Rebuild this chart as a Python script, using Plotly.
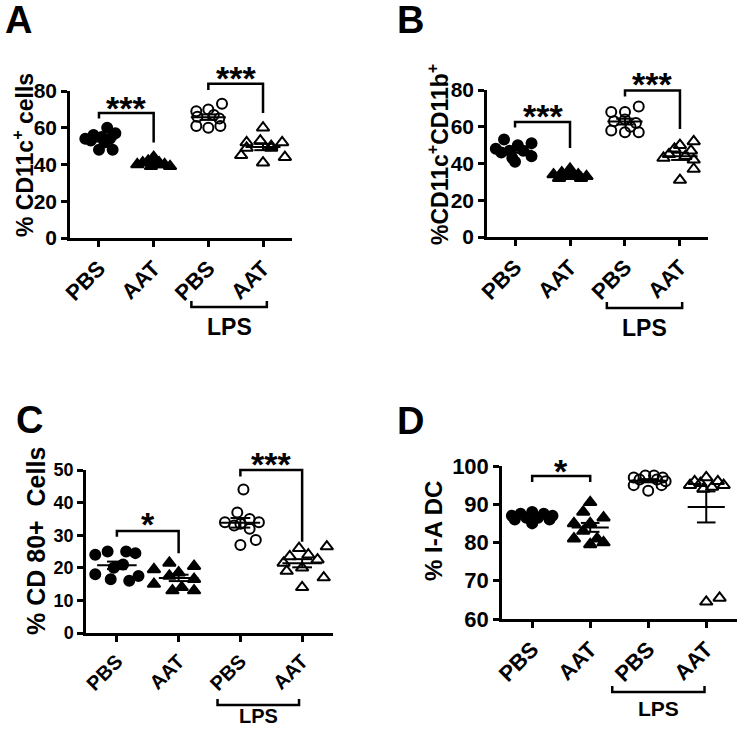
import numpy as np
import plotly.graph_objects as go

W, H = 739, 730
FONT = "Arial, Liberation Sans, sans-serif"

# ---------------- data ----------------
tick_labels = ["PBS", "AAT", "PBS", "AAT"]
categories = [1, 2, 3, 4]

# Panel A: % CD11c+ cells
a_pbs = [60, 57, 56, 55, 54, 54, 53, 52, 48, 48]
a_aat = [44, 42, 41, 41, 40, 40, 39, 39, 40]
a_lps_pbs = [73, 70, 69, 67, 66, 65, 61, 60, 61]
a_lps_aat = [60, 53, 52, 52, 50, 49, 49, 45, 44, 41]
a_off = [[0.15, 0.3, -0.1, 0.05, -0.25, 0.2, -0.15, 0.1, 0.0, 0.25],
         [0.0, -0.1, 0.1, -0.2, 0.2, -0.3, 0.3, -0.05, 0.05],
         [0.25, 0.0, -0.22, 0.1, -0.2, 0.2, -0.22, 0.0, 0.22],
         [0.0, -0.05, -0.3, 0.35, 0.15, -0.3, 0.15, -0.4, 0.4, 0.0]]

# Panel B: % CD11c+CD11b+
b_pbs = [53, 51, 50, 48, 47, 47, 46, 44, 43, 41]
b_aat = [37, 35, 34, 34, 33, 33, 32, 32, 33]
b_lps_pbs = [71, 68, 68, 64, 63, 62, 60, 58, 57, 57]
b_lps_aat = [52, 50, 48, 47, 45, 44, 43, 42, 37, 31]
b_off = [[-0.2, 0.3, 0.05, -0.35, -0.1, 0.15, -0.25, 0.3, -0.05, 0.0],
         [0.0, -0.15, 0.15, -0.3, 0.3, -0.05, -0.2, 0.2, 0.05],
         [0.25, 0.0, -0.25, 0.0, -0.2, 0.2, 0.1, -0.25, 0.25, 0.0],
         [0.25, 0.0, -0.1, 0.2, -0.2, 0.1, -0.3, 0.25, 0.25, 0.0]]

# Panel C: % CD 80+ Cells
c_pbs = [25, 25, 24.5, 24, 21, 20, 18, 17.5, 16.5, 16]
c_aat = [21.5, 20.5, 19.5, 18.5, 17.5, 16.5, 15, 14, 13, 13]
c_lps_pbs = [44, 37, 35, 34, 34, 33.5, 33, 32, 28.5, 27]
c_lps_aat = [26.5, 26, 24, 23.5, 22.5, 21.5, 20, 19, 17, 14]
c_off = [[-0.15, 0.15, 0.3, -0.35, 0.1, -0.05, -0.35, 0.35, -0.1, 0.2],
         [-0.15, 0.25, -0.4, 0.0, -0.15, 0.25, -0.4, 0.05, -0.1, 0.25],
         [0.05, -0.05, 0.15, -0.25, 0.3, 0.0, -0.1, 0.15, 0.25, 0.0],
         [0.4, -0.05, 0.1, -0.2, 0.25, -0.3, 0.0, -0.25, 0.35, 0.0]]

# Panel D: % I-A DC
d_pbs = [88, 87.5, 87.5, 87, 87, 86.5, 86.5, 86, 86, 85]
d_aat = [90.5, 88, 86.5, 85, 85, 83, 81, 81, 80, 79.5]
d_lps_pbs = [97.5, 97.5, 97, 97, 96.5, 96.5, 96, 95, 95, 93.5]
d_lps_aat = [97, 96, 96, 95.5, 95, 95, 94.5, 94, 64.5, 65.5]
d_off = [[0.0, -0.2, 0.2, -0.35, 0.35, -0.1, 0.1, -0.3, 0.3, 0.0],
         [0.0, -0.12, 0.23, -0.28, 0.0, -0.12, -0.28, 0.12, 0.23, 0.0],
         [-0.05, 0.1, -0.25, 0.25, -0.15, 0.15, 0.3, 0.23, -0.25, 0.0],
         [0.0, -0.2, 0.2, -0.1, 0.3, -0.28, 0.1, -0.05, 0.0, 0.23]]

# significance brackets: (x_left, x_right, y_top, y_left_end, y_right_end, label_y, label)
a_sig = [(1, 2, 68, 65, 52, 71, "***"), (3, 4, 84, 80.5, 68, 87, "***")]
b_sig = [(1, 2, 62.6, 59.6, 48.4, 66, "***"), (3, 4, 79.7, 76.5, 58.8, 83, "***")]
c_sig = [(1, 2, 31.3, 29.5, 24.5, 33.5, "*"), (3, 4, 50, 48, 28, 51.8, "***")]
d_sig = [(1, 2, 97.4, 95.8, 95.8, 98.8, "*")]

# ---------------- layout geometry (pixels) ----------------
panels = [
    dict(name="A", groups=[a_pbs, a_aat, a_lps_pbs, a_lps_aat], offs=a_off, sig=a_sig,
         px=(70, 292), py=(238, 91), yr=(0, 80), xr=(0.47, 4.53), dtick=20,
         title="% CD11c<sup>+</sup> cells", tpos=(23, 155), tsize=23,
         ytsize=21, xtsize=22,
         letter=(18, 20), lps=(2.69, 4.07, 307, 327), lpssize=23),
    dict(name="B", groups=[b_pbs, b_aat, b_lps_pbs, b_lps_aat], offs=b_off, sig=b_sig,
         px=(487, 708), py=(237, 90), yr=(0, 80), xr=(0.49, 4.51), dtick=20,
         title="%CD11c<sup>+</sup>CD11b<sup>+</sup>", tpos=(438, 155), tsize=23,
         ytsize=21, xtsize=22,
         letter=(410, 20), lps=(2.67, 4.04, 308, 328), lpssize=23),
    dict(name="C", groups=[c_pbs, c_aat, c_lps_pbs, c_lps_aat], offs=c_off, sig=c_sig,
         px=(86, 333), py=(633, 470), yr=(0, 50), xr=(0.5, 4.5), dtick=10,
         title="% CD 80+  Cells", tpos=(36, 541), tsize=25,
         ytsize=18, xtsize=20,
         letter=(29, 420), lps=(2.63, 3.95, 705, 716), lpssize=20),
    dict(name="D", groups=[d_pbs, d_aat, d_lps_pbs, d_lps_aat], offs=d_off, sig=d_sig,
         px=(502, 737), py=(619, 466), yr=(60, 100), xr=(0.48, 4.53), dtick=10,
         title="% I-A DC", tpos=(433, 531), tsize=24,
         ytsize=22, xtsize=22,
         letter=(410, 421), lps=(2.38, 3.97, 692, 708), lpssize=21),
]

symbols = ["circle", "triangle-up", "circle-open", "triangle-up-open"]
msizes = [10, 11, 10, 11]

fig = go.Figure()
shapes, annotations = [], []
layout_axes = {}


def px2x(p):
    return p / W


def py2y(p):
    return 1 - p / H


for i, P in enumerate(panels):
    n = i + 1
    xa = "x" if n == 1 else f"x{n}"
    ya = "y" if n == 1 else f"y{n}"
    xkey = "xaxis" if n == 1 else f"xaxis{n}"
    ykey = "yaxis" if n == 1 else f"yaxis{n}"
    dom_x = [px2x(P["px"][0]), px2x(P["px"][1])]
    dom_y = [py2y(P["py"][0]), py2y(P["py"][1])]
    lo, hi = P["yr"]

    def v2paper(v, dom_y=dom_y, lo=lo, hi=hi):
        return dom_y[0] + (v - lo) / (hi - lo) * (dom_y[1] - dom_y[0])

    layout_axes[xkey] = dict(
        domain=dom_x, range=list(P["xr"]), anchor=ya, tickmode="array",
        tickvals=categories, ticktext=tick_labels, tickangle=-45, automargin=False,
        tickfont=dict(family=FONT, size=P["xtsize"], color="black", weight="bold"),
        showline=True, linecolor="black", linewidth=2.5, ticks="outside",
        ticklen=6, tickwidth=2.5, tickcolor="black", showgrid=False, zeroline=False,
    )
    layout_axes[ykey] = dict(
        domain=dom_y, range=[lo, hi], anchor=xa, tickmode="linear", tick0=lo,
        dtick=P["dtick"], automargin=False,
        tickfont=dict(family=FONT, size=P["ytsize"], color="black", weight="bold"),
        showline=True, linecolor="black", linewidth=2.5, ticks="outside",
        ticklen=6, tickwidth=2.5, tickcolor="black", showgrid=False, zeroline=False,
    )

    for g, (vals, offs) in enumerate(zip(P["groups"], P["offs"])):
        cat = categories[g]
        fig.add_trace(go.Scatter(
            x=[cat + o for o in offs], y=vals, mode="markers", xaxis=xa, yaxis=ya,
            marker=dict(symbol=symbols[g], size=msizes[g], color="black",
                        line=dict(color="black", width=2)),
            showlegend=False, cliponaxis=False,
        ))
        arr = np.array(vals, dtype=float)
        m = arr.mean()
        sem = arr.std(ddof=1) / np.sqrt(len(arr))
        hw, cw = 0.32, 0.16
        fig.add_trace(go.Scatter(
            x=[cat - hw, cat + hw], y=[m, m], mode="lines", xaxis=xa, yaxis=ya,
            line=dict(color="black", width=2), showlegend=False))
        fig.add_trace(go.Scatter(
            x=[cat - cw, cat + cw, None, cat, cat, None, cat - cw, cat + cw],
            y=[m + sem, m + sem, None, m + sem, m - sem, None, m - sem, m - sem],
            mode="lines", xaxis=xa, yaxis=ya,
            line=dict(color="black", width=2), showlegend=False))

    for (x1, x2, yt, yl, yr_, ly, lab) in P["sig"]:
        path = (f"M {x1} {v2paper(yl)} L {x1} {v2paper(yt)} "
                f"L {x2} {v2paper(yt)} L {x2} {v2paper(yr_)}")
        shapes.append(dict(type="path", xref=xa, yref="paper", path=path,
                           line=dict(color="black", width=2.5)))
        annotations.append(dict(x=(x1 + x2) / 2, y=v2paper(ly), xref=xa, yref="paper",
                                text=lab, showarrow=False, yanchor="middle",
                                font=dict(family=FONT, size=34, color="black", weight="bold")))

    lx1, lx2, lyp, ltp = P["lps"]
    yb = py2y(lyp)
    yt = py2y(lyp - 6)
    shapes.append(dict(type="path", xref=xa, yref="paper",
                       path=f"M {lx1} {yt} L {lx1} {yb} L {lx2} {yb} L {lx2} {yt}",
                       line=dict(color="black", width=2.5)))
    annotations.append(dict(x=(lx1 + lx2) / 2, y=py2y(ltp), xref=xa, yref="paper",
                            text="LPS", showarrow=False, yanchor="middle",
                            font=dict(family=FONT, size=P["lpssize"], color="black",
                                      weight="bold")))

    annotations.append(dict(x=px2x(P["tpos"][0]), y=py2y(P["tpos"][1]), xref="paper",
                            yref="paper", text=P["title"], textangle=-90, showarrow=False,
                            xanchor="center", yanchor="middle",
                            font=dict(family=FONT, size=P["tsize"], color="black",
                                      weight="bold")))
    annotations.append(dict(x=px2x(P["letter"][0]), y=py2y(P["letter"][1]), xref="paper",
                            yref="paper", text=P["name"], showarrow=False,
                            xanchor="center", yanchor="middle",
                            font=dict(family=FONT, size=38, color="black", weight="bold")))

fig.update_layout(
    width=W, height=H, autosize=False,
    margin=dict(l=0, r=0, t=0, b=0, pad=0, autoexpand=False),
    paper_bgcolor="white", plot_bgcolor="white",
    shapes=shapes, annotations=annotations, showlegend=False,
    **layout_axes,
)

page_fix = ("document.documentElement.style.margin='0';"
            "document.body.style.margin='0';document.body.style.padding='0';"
            "var gd=document.getElementById('{plot_id}');"
            "gd.style.position='fixed';gd.style.left='0px';gd.style.top='0px';")

fig.write_html("out.html", config={"displayModeBar": False, "responsive": False},
               post_script=page_fix)
